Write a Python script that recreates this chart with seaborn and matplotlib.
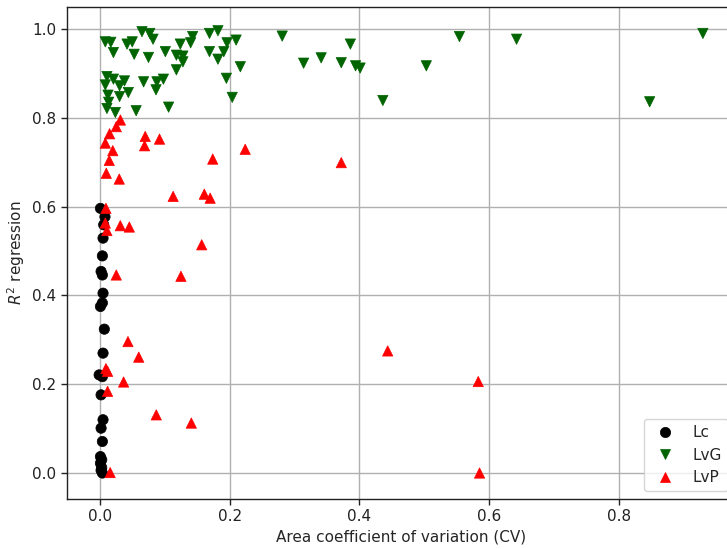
import numpy as np
import pandas as pd
import matplotlib
matplotlib.use("Agg")
import matplotlib.pyplot as plt
import seaborn as sns

# ---- data ----
lc_cv = [0.001, 0.008, 0.006, 0.005, 0.004, 0.002, 0.004, 0.005, 0.004, 0.001,
         0.007, 0.005, -0.001, 0.004, 0.002, 0.005, 0.002, 0.004, 0.001, 0.003,
         0.001, 0.003, 0.002, 0.004]
lc_r2 = [0.596, 0.577, 0.559, 0.529, 0.489, 0.454, 0.446, 0.405, 0.383, 0.375,
         0.324, 0.270, 0.221, 0.217, 0.176, 0.120, 0.101, 0.071, 0.037, 0.030,
         0.022, 0.012, 0.006, 0.0]

lvg_cv = [0.065, 0.077, 0.082, 0.0085, 0.017, 0.042, 0.050, 0.021, 0.053, 0.075,
          0.101, 0.118, 0.128, 0.128, 0.124, 0.140, 0.143, 0.169, 0.182, 0.169,
          0.182, 0.191, 0.196, 0.210, 0.2165, 0.118, 0.195, 0.204, 0.011, 0.021,
          0.038, 0.0675, 0.088, 0.098, 0.0085, 0.0305, 0.0866, 0.044, 0.0126, 0.0305,
          0.0136, 0.011, 0.024, 0.056, 0.106,
          0.281, 0.314, 0.341, 0.372, 0.386, 0.394, 0.401, 0.436, 0.503, 0.554,
          0.642, 0.847, 0.929]
lvg_r2 = [0.994, 0.990, 0.977, 0.971, 0.970, 0.966, 0.971, 0.947, 0.943, 0.936,
          0.949, 0.941, 0.939, 0.926, 0.966, 0.969, 0.983, 0.990, 0.996, 0.949,
          0.932, 0.949, 0.969, 0.975, 0.915, 0.908, 0.889, 0.846, 0.893, 0.887,
          0.883, 0.881, 0.881, 0.887, 0.874, 0.872, 0.863, 0.857, 0.851, 0.848,
          0.835, 0.821, 0.812, 0.816, 0.824,
          0.984, 0.923, 0.935, 0.924, 0.966, 0.917, 0.912, 0.839, 0.917, 0.983,
          0.977, 0.836, 0.990]

lvp_cv = [0.0317, 0.0254, 0.0151, 0.0085, 0.070, 0.069, 0.092, 0.224, 0.020, 0.0146,
          0.174, 0.010, 0.030, 0.113, 0.161, 0.170, 0.0095, 0.0085, 0.011, 0.0316,
          0.0455, 0.157, 0.0254, 0.125, 0.372,
          0.0434, 0.060, 0.0095, 0.012, 0.0367, 0.012, 0.087, 0.141, 0.4435, 0.583,
          0.585, 0.016]
lvp_r2 = [0.795, 0.780, 0.764, 0.743, 0.758, 0.737, 0.752, 0.729, 0.726, 0.704,
          0.707, 0.675, 0.662, 0.623, 0.628, 0.619, 0.596, 0.563, 0.546, 0.557,
          0.554, 0.514, 0.446, 0.443, 0.699,
          0.296, 0.261, 0.235, 0.229, 0.205, 0.184, 0.131, 0.1125, 0.275, 0.206,
          0.0, 0.001]

groups = ["Lc", "LvG", "LvP"]
colors = {"Lc": "black", "LvG": "#006400", "LvP": "red"}
markers = {"Lc": "o", "LvG": "v", "LvP": "^"}

df = pd.concat([
    pd.DataFrame({"cv": lc_cv, "r2": lc_r2, "group": "Lc"}),
    pd.DataFrame({"cv": lvg_cv, "r2": lvg_r2, "group": "LvG"}),
    pd.DataFrame({"cv": lvp_cv, "r2": lvp_r2, "group": "LvP"}),
], ignore_index=True)

sns.set_theme(style="ticks", rc={"axes.grid": True, "grid.color": "#b0b0b0",
                                 "grid.linewidth": 0.8, "axes.edgecolor": "#222222",
                                 "axes.linewidth": 1.0})
plt.rcParams["font.family"] = ["DejaVu Sans"]

fig = plt.figure(figsize=(7.27, 5.49), dpi=100)
W, H = 727, 549
left_px, right_px, top_px, bottom_px = 67, 736, 7, 499
ax = fig.add_axes([left_px / W, (H - bottom_px) / H,
                   (right_px - left_px) / W, (bottom_px - top_px) / H])

sns.scatterplot(data=df, x="cv", y="r2", hue="group", style="group",
                hue_order=groups, style_order=groups,
                palette=colors, markers=markers, s=55,
                edgecolor="face", linewidth=0.5, ax=ax)

ax.set_xlim(-0.0505, 0.980)
ax.set_ylim(-0.0585, 1.0495)
ax.set_xticks([0.0, 0.2, 0.4, 0.6, 0.8])
ax.set_yticks([0.0, 0.2, 0.4, 0.6, 0.8, 1.0])
ax.set_xlabel("Area coefficient of variation (CV)", fontsize=11)
ax.set_ylabel("$R^2$ regression", fontsize=11)
ax.tick_params(labelsize=11, length=4, width=1, color="#222222", labelcolor="#222222")
ax.grid(True, color="#b0b0b0", linewidth=1.0)

handles, labels = ax.get_legend_handles_labels()
ax.legend(handles, labels, loc="lower right", fontsize=11, frameon=True,
          framealpha=0.8, edgecolor="#cccccc", fancybox=True)

fig.savefig("out.png", dpi=100)
